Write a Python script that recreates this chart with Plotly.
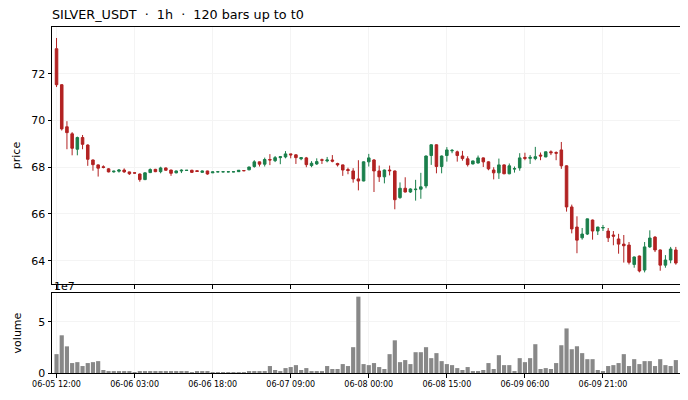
import pandas as pd
import plotly.graph_objects as go
from plotly.subplots import make_subplots

# hourly bars for SILVER_USDT
times = pd.date_range("2025-06-05 12:00", periods=120, freq="h")

opens = [73.07, 71.53, 69.73, 69.43, 68.77, 69.27, 68.95, 68.31, 68.10, 68.02,
         67.93, 67.80, 67.83, 67.88, 67.80, 67.76, 67.71, 67.47, 67.77, 67.91,
         67.81, 67.97, 67.88, 67.76, 67.84, 67.86, 67.87, 67.85, 67.78, 67.84,
         67.76, 67.80, 67.80, 67.80, 67.80, 67.81, 67.86, 67.89, 68.03, 68.23,
         68.13, 68.33, 68.28, 68.41, 68.44, 68.57, 68.53, 68.36, 68.40, 68.07,
         68.14, 68.32, 68.27, 68.31, 68.16, 68.10, 67.90, 67.84, 67.50, 67.41,
         68.23, 68.31, 67.84, 67.59, 67.88, 67.84, 66.70, 67.10, 66.94, 67.04,
         67.06, 67.20, 68.50, 68.96, 68.03, 68.50, 68.70, 68.66, 68.48, 68.36,
         68.14, 68.18, 68.40, 68.23, 67.88, 67.76, 68.10, 67.72, 67.92, 67.97,
         68.42, 68.38, 68.37, 68.52, 68.44, 68.66, 68.63, 68.74, 68.06, 66.30,
         65.44, 64.98, 65.14, 65.74, 65.27, 65.40, 65.27, 65.10, 64.93, 64.71,
         64.67, 63.84, 64.20, 63.60, 64.59, 65.01, 64.46, 63.81, 64.03, 64.46]

highs = [73.53, 71.55, 69.97, 69.50, 69.31, 69.38, 68.98, 68.33, 68.12, 68.08,
         67.96, 67.85, 67.92, 67.95, 67.81, 67.78, 67.73, 67.78, 67.95, 67.93,
         68.02, 67.99, 67.89, 67.86, 67.91, 67.88, 67.89, 67.86, 67.86, 67.85,
         67.81, 67.81, 67.81, 67.81, 67.81, 67.88, 67.88, 68.02, 68.30, 68.24,
         68.41, 68.56, 68.48, 68.46, 68.69, 68.58, 68.55, 68.43, 68.44, 68.26,
         68.38, 68.37, 68.44, 68.52, 68.19, 68.11, 67.98, 67.96, 68.30, 68.25,
         68.57, 68.35, 68.07, 67.90, 68.07, 67.86, 67.35, 67.57, 67.10, 67.46,
         67.76, 68.50, 68.98, 68.98, 68.50, 68.86, 68.78, 68.71, 68.70, 68.47,
         68.28, 68.50, 68.42, 68.25, 68.00, 68.37, 68.12, 68.16, 68.03, 68.60,
         68.62, 68.52, 68.87, 68.63, 68.67, 68.72, 68.68, 69.08, 68.08, 66.40,
         65.90, 65.40, 65.80, 65.76, 65.45, 65.53, 65.40, 65.27, 65.15, 65.10,
         64.80, 64.18, 64.22, 64.80, 65.30, 65.05, 64.48, 64.24, 64.59, 64.59]

lows = [71.43, 69.57, 68.77, 68.51, 68.51, 68.77, 68.06, 67.85, 67.60, 67.95,
        67.78, 67.77, 67.77, 67.76, 67.67, 67.73, 67.38, 67.45, 67.75, 67.79,
        67.74, 67.85, 67.63, 67.74, 67.75, 67.85, 67.76, 67.80, 67.77, 67.68,
        67.75, 67.79, 67.79, 67.79, 67.79, 67.80, 67.83, 67.87, 67.98, 68.03,
        68.03, 68.09, 68.22, 68.13, 68.38, 68.38, 68.14, 68.30, 68.00, 68.00,
        68.10, 68.14, 68.21, 68.21, 68.03, 67.63, 67.70, 67.34, 67.01, 67.40,
        68.03, 66.94, 67.37, 67.31, 67.65, 66.20, 66.65, 66.92, 66.90, 66.57,
        66.65, 67.10, 68.10, 67.74, 67.74, 68.24, 68.60, 68.24, 68.28, 68.03,
        68.12, 68.16, 68.01, 67.87, 67.48, 67.50, 67.70, 67.70, 67.77, 67.85,
        68.30, 68.14, 68.30, 68.30, 68.43, 68.52, 68.30, 67.93, 66.10, 65.17,
        64.32, 64.90, 65.10, 64.90, 65.10, 65.27, 64.80, 64.66, 64.30, 63.92,
        63.84, 63.70, 63.50, 63.50, 64.55, 64.37, 63.57, 63.70, 63.89, 63.83]

closes = [71.53, 69.64, 69.48, 68.81, 69.27, 68.98, 68.34, 68.11, 67.96, 67.99,
          67.80, 67.83, 67.88, 67.80, 67.72, 67.75, 67.47, 67.76, 67.90, 67.81,
          67.97, 67.87, 67.74, 67.84, 67.87, 67.87, 67.78, 67.82, 67.84, 67.71,
          67.80, 67.805, 67.805, 67.805, 67.805, 67.87, 67.85, 68.01, 68.23, 68.13,
          68.33, 68.31, 68.41, 68.45, 68.57, 68.53, 68.41, 68.41, 68.11, 68.17,
          68.24, 68.30, 68.31, 68.26, 68.10, 67.88, 67.86, 67.50, 67.41, 68.23,
          68.40, 67.84, 67.59, 67.88, 67.85, 66.61, 67.10, 66.94, 67.07, 67.06,
          67.16, 68.48, 68.96, 68.03, 68.48, 68.74, 68.72, 68.50, 68.37, 68.11,
          68.27, 68.40, 68.23, 67.93, 67.76, 68.10, 67.72, 68.06, 67.94, 68.40,
          68.38, 68.42, 68.45, 68.48, 68.66, 68.62, 68.60, 68.06, 66.30, 65.36,
          64.88, 65.14, 65.79, 65.27, 65.44, 65.42, 64.98, 65.05, 64.71, 64.64,
          63.93, 64.16, 63.56, 64.59, 64.97, 64.46, 63.81, 64.03, 64.50, 63.90]

volumes = [1.84e7, 3.68e7, 2.60e7, 0.97e7, 1.06e7, 0.68e7, 0.97e7, 1.06e7, 1.16e7, 0.29e7,
           0.10e7, 0.10e7, 0.19e7, 0.10e7, 0.10e7, 0.03e7, 0.19e7, 0.10e7, 0.19e7, 0.10e7,
           0.19e7, 0.10e7, 0.10e7, 0.10e7, 0.10e7, 0.10e7, 0.03e7, 0.10e7, 0.10e7, 0.10e7,
           0.03e7, 0.02e7, 0.02e7, 0.02e7, 0.02e7, 0.03e7, 0.04e7, 0.10e7, 0.10e7, 0.10e7,
           0.19e7, 0.68e7, 0.29e7, 0.10e7, 0.48e7, 0.58e7, 0.77e7, 0.29e7, 0.48e7, 0.10e7,
           0.19e7, 0.10e7, 0.68e7, 0.39e7, 0.39e7, 0.87e7, 0.68e7, 2.52e7, 7.45e7, 0.87e7,
           0.77e7, 0.97e7, 0.58e7, 0.39e7, 1.84e7, 3.19e7, 1.06e7, 1.26e7, 0.87e7, 2.03e7,
           2.03e7, 2.52e7, 1.45e7, 1.94e7, 1.16e7, 0.87e7, 0.77e7, 0.48e7, 0.29e7, 0.58e7,
           0.19e7, 0.19e7, 0.29e7, 0.97e7, 0.39e7, 1.74e7, 0.77e7, 0.77e7, 0.19e7, 1.45e7,
           1.06e7, 1.45e7, 2.81e7, 0.39e7, 0.48e7, 0.39e7, 0.97e7, 2.71e7, 4.35e7, 2.32e7,
           2.61e7, 1.94e7, 1.35e7, 1.35e7, 0.29e7, 0.10e7, 0.68e7, 0.77e7, 0.97e7, 1.84e7,
           0.68e7, 1.35e7, 0.87e7, 1.16e7, 1.16e7, 0.68e7, 1.35e7, 0.77e7, 0.68e7, 1.26e7]

price_ticks = [64, 66, 68, 70, 72]
volume_ticks = [0, 5e7]
volume_ticktext = ["0", "5"]
x_ticks = times[::15]

UP = "#1a7f4b"
DOWN = "#b22222"
GRID = "#f4f4f4"

# the page body adds an 8px margin, so the figure is sized 8px smaller
W, H = 680, 392

fig = make_subplots(rows=2, cols=1, shared_xaxes=True)

fig.add_trace(go.Candlestick(
    x=times, open=opens, high=highs, low=lows, close=closes,
    increasing=dict(line=dict(color=UP, width=1), fillcolor=UP),
    decreasing=dict(line=dict(color=DOWN, width=1), fillcolor=DOWN),
    whiskerwidth=0, showlegend=False,
), row=1, col=1)

fig.add_trace(go.Bar(
    x=times, y=volumes, marker=dict(color="#888888", line=dict(width=0)),
    showlegend=False,
), row=2, col=1)

hour = pd.Timedelta(hours=1)
xrange = [times[0] - 0.87 * hour, times[-1] + 0.8 * hour]

axis_common = dict(
    showline=True, linecolor="black", linewidth=1, mirror=True,
    ticks="outside", ticklen=3.5, tickcolor="black", automargin=False,
    showgrid=True, gridcolor=GRID, gridwidth=0.8, zeroline=False,
)

fig.update_xaxes(
    **axis_common, range=xrange, tickvals=x_ticks,
    tickformat="%m-%d %H:%M", rangeslider=dict(visible=False),
)
fig.update_xaxes(showticklabels=False, row=1, col=1)
fig.update_xaxes(tickfont=dict(size=8), row=2, col=1)

fig.update_yaxes(
    **axis_common, range=[63.0, 74.0], tickvals=price_ticks,
    tickfont=dict(size=11), title=dict(text="price", font=dict(size=11), standoff=8),
    row=1, col=1,
)
fig.update_yaxes(
    **axis_common, range=[0, 7.8e7], tickvals=volume_ticks, ticktext=volume_ticktext,
    tickfont=dict(size=11), title=dict(text="volume", font=dict(size=11), standoff=14),
    row=2, col=1,
)

fig.update_layout(
    width=W, height=H,
    margin=dict(l=44, r=8, t=19, b=27, autoexpand=False),
    paper_bgcolor="white", plot_bgcolor="white",
    font=dict(family="DejaVu Sans", color="black"),
    title=dict(text="SILVER_USDT  ·  1h  ·  120 bars up to t0",
               x=44 / W, xanchor="left", y=1 - 7 / H, yanchor="middle",
               font=dict(size=12.75)),
    bargap=0.2, boxgap=0.3,
    yaxis=dict(domain=[0.257, 1.0]),
    yaxis2=dict(domain=[0.0, 0.231]),
    annotations=[dict(text="1e7", xref="paper", yref="paper", x=0, y=0.231,
                      xanchor="left", yanchor="bottom", showarrow=False,
                      font=dict(size=11), yshift=-2)],
)

fig.write_html("out.html")
